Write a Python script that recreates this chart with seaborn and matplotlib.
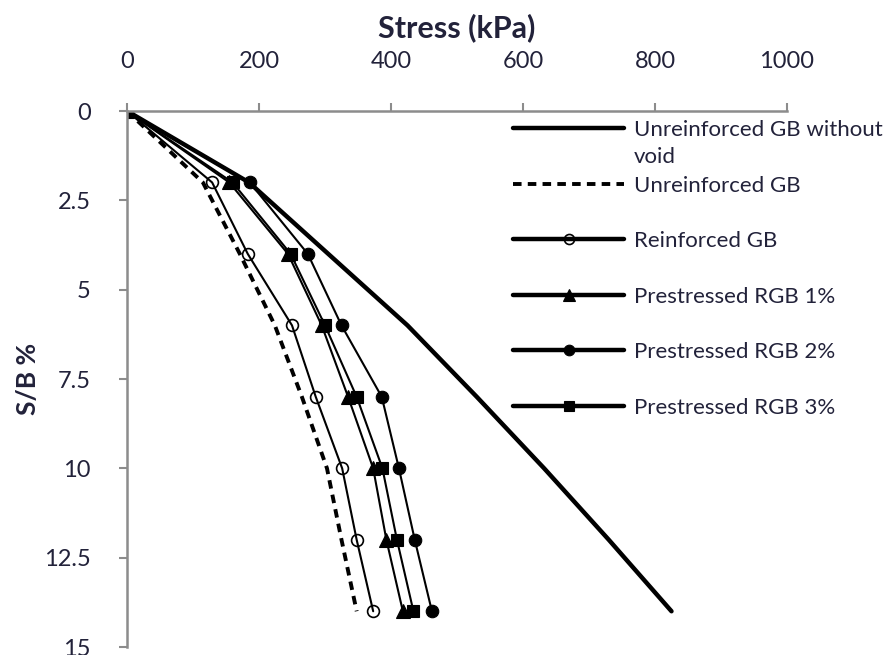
import matplotlib
matplotlib.use("Agg")
import matplotlib.pyplot as plt
import seaborn as sns
import pandas as pd
from matplotlib.lines import Line2D

# ---- data ----
sb = [0, 2, 4, 6, 8, 10, 12, 14]
unreinf_no_void = [0, 185, 305, 425, 530, 632, 730, 825]
unreinf_gb = [0, 115, 171, 224, 265, 303, 325, 348]
reinf_gb = [0, 129, 183, 250, 286, 326, 348, 373]
prest_1 = [0, 155, 244, 295, 335, 373, 393, 418]
prest_2 = [0, 186, 274, 325, 386, 412, 436, 462]
prest_3 = [0, 160, 248, 300, 348, 387, 409, 434]

labels = ["Unreinforced GB without", "Unreinforced GB", "Reinforced GB",
          "Prestressed RGB 1%", "Prestressed RGB 2%", "Prestressed RGB 3%"]
label_continuation = "void"
x_ticks = [0, 200, 400, 600, 800, 1000]
y_ticks = [0, 2.5, 5, 7.5, 10, 12.5, 15]
y_tick_labels = ["0", "2.5", "5", "7.5", "10", "12.5", "15"]

sns.set_theme(style="white")
plt.rcParams['font.family'] = ['Lato', 'DejaVu Sans']
TXT = '#22223a'
SPINE = '#8c8c8c'

W, H = 894, 655
fig = plt.figure(figsize=(W/100, H/100), dpi=100)
ax = fig.add_axes([127/W, 1-647/H, (787-127)/W, (647-111)/H])

series = [
    (unreinf_no_void, dict(linewidth=3.2, linestyle='-', marker=None)),
    (unreinf_gb, dict(linewidth=2.8, linestyle=(0, (2.2, 1.6)), marker=None)),
    (reinf_gb, dict(linewidth=1.5, linestyle='-', marker='o', markersize=8.5,
                    markerfacecolor='none', markeredgecolor='black',
                    markeredgewidth=1.2)),
    (prest_1, dict(linewidth=1.5, linestyle='-', marker='^', markersize=10,
                   markeredgecolor='black', markeredgewidth=0.8)),
    (prest_2, dict(linewidth=1.5, linestyle='-', marker='o', markersize=9,
                   markeredgecolor='black', markeredgewidth=0.8)),
    (prest_3, dict(linewidth=1.5, linestyle='-', marker='s', markersize=9,
                   markeredgecolor='black', markeredgewidth=0.8)),
]

handles = []
for (vals, kw), lab in zip(series, labels):
    df = pd.DataFrame({"stress": vals, "sb": sb})
    sns.lineplot(data=df, x="stress", y="sb", ax=ax, color='black',
                 sort=False, estimator=None, legend=False, **kw)
    hk = dict(kw)
    hk['linewidth'] = 2.8 if lab == "Unreinforced GB" else 3.2
    if hk.get('marker'):
        hk['markersize'] = hk['markersize'] * 0.85
    handles.append(Line2D([0], [0], color='black', **hk))

ax.set_xlim(0, 1000)
ax.set_ylim(15, 0)
ax.xaxis.tick_top()
ax.xaxis.set_label_position('top')
ax.set_xticks(x_ticks)
ax.set_yticks(y_ticks)
ax.set_yticklabels(y_tick_labels)
ax.tick_params(axis='both', direction='out', length=6, width=1.5, color=SPINE,
               labelsize=17, labelcolor=TXT)
ax.tick_params(axis='x', top=True, bottom=False, pad=22)
ax.tick_params(axis='y', left=True, pad=20)

for s in ['bottom', 'right']:
    ax.spines[s].set_visible(False)
for s in ['top', 'left']:
    ax.spines[s].set_visible(True)
    ax.spines[s].set_color(SPINE)
    ax.spines[s].set_linewidth(1.8)

ax.set_xlabel("Stress (kPa)", fontsize=22, fontweight='bold', color=TXT, labelpad=10)
ax.set_ylabel("S/B %", fontsize=19, fontweight='bold', color=TXT, labelpad=3)
ax.grid(False)

leg = fig.legend(handles, labels, loc='upper left',
                 bbox_to_anchor=(513/W, 1-120/H),
                 frameon=False, fontsize=16, handlelength=5.0,
                 handletextpad=0.45, labelspacing=1.6, borderpad=0,
                 borderaxespad=0, numpoints=1)
for t in leg.get_texts():
    t.set_color(TXT)

fig.canvas.draw()
bb = leg.get_texts()[0].get_window_extent()
x0, _ = fig.transFigure.inverted().transform((bb.x0, bb.y0))
fig.text(x0, 1-163/H, label_continuation, fontsize=16, color=TXT,
         ha='left', va='baseline')

fig.savefig("out.png", dpi=100)
